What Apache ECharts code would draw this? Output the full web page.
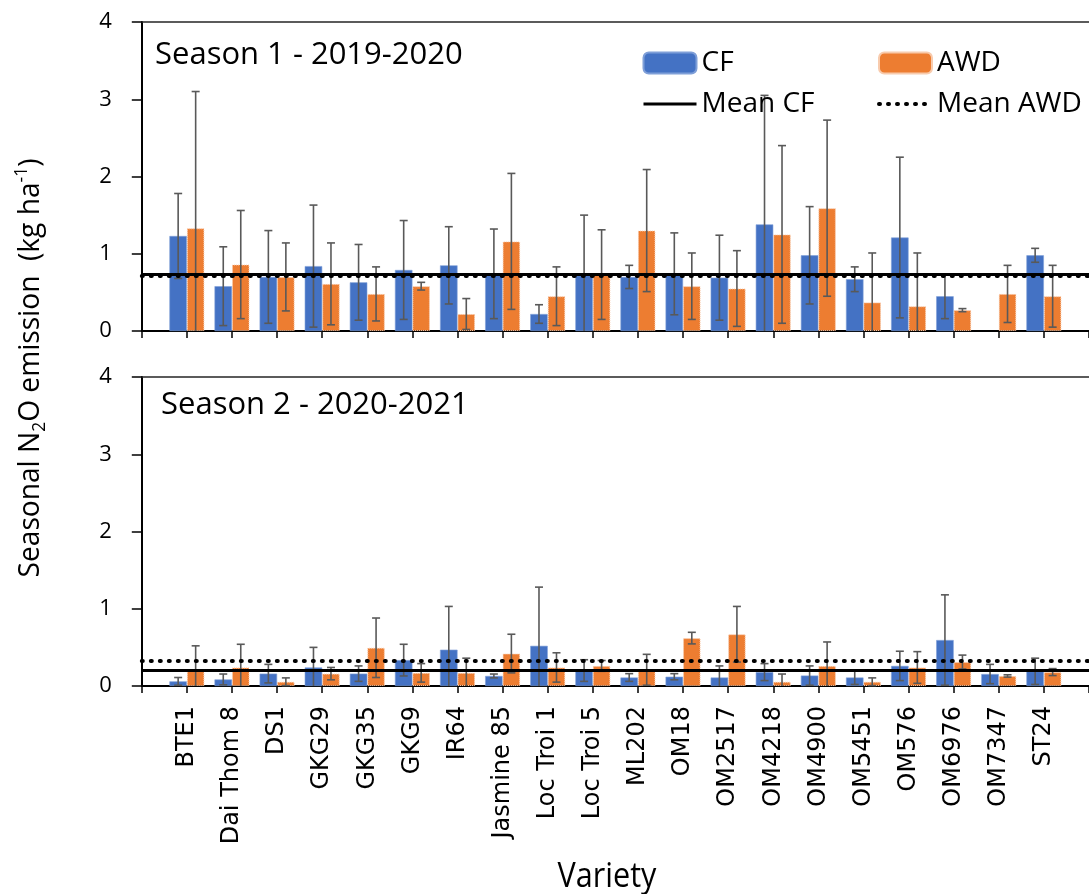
<!DOCTYPE html>
<html>
<head>
<meta charset="utf-8">
<script src="https://cdn.jsdelivr.net/npm/echarts@6/dist/echarts.min.js"></script>
<style>
  html, body { margin: 0; padding: 0; background: #fff; }
  #chart { width: 1089px; height: 894px; }
</style>
</head>
<body>
<div id="chart"></div>
<script>
// ---------------- data ----------------
const categories = ['BTE1', 'Dai Thom 8', 'DS1', 'GKG29', 'GKG35', 'GKG9', 'IR64', 'Jasmine 85',
  'Loc Troi 1', 'Loc Troi 5', 'ML202', 'OM18', 'OM2517', 'OM4218', 'OM4900', 'OM5451',
  'OM576', 'OM6976', 'OM7347', 'ST24'];

// Season 1 - 2019-2020
const cf1     = [1.23, 0.58, 0.70, 0.84, 0.63, 0.79, 0.85, 0.74, 0.22, 0.72, 0.70, 0.74, 0.69, 1.38, 0.98, 0.67, 1.21, 0.45, null, 0.98];
const cf1Err  = [0.55, 0.51, 0.60, 0.79, 0.49, 0.64, 0.50, 0.58, 0.12, 0.78, 0.15, 0.53, 0.55, 1.67, 0.63, 0.16, 1.04, 0.29, null, 0.09];
const awd1    = [1.33, 0.86, 0.70, 0.61, 0.48, 0.58, 0.22, 1.16, 0.45, 0.73, 1.30, 0.58, 0.55, 1.25, 1.59, 0.37, 0.32, 0.27, 0.48, 0.45];
const awd1Err = [1.77, 0.70, 0.44, 0.53, 0.35, 0.05, 0.20, 0.88, 0.38, 0.58, 0.79, 0.43, 0.49, 1.15, 1.14, 0.64, 0.69, 0.02, 0.37, 0.40];
const meanCF1 = 0.74;
const meanAWD1 = 0.71;

// Season 2 - 2020-2021
const cf2     = [0.06, 0.085, 0.16, 0.24, 0.16, 0.335, 0.47, 0.13, 0.52, 0.20, 0.11, 0.12, 0.11, 0.18, 0.135, 0.11, 0.26, 0.595, 0.155, 0.19];
const cf2Err  = [0.05, 0.07, 0.12, 0.26, 0.10, 0.205, 0.56, 0.025, 0.76, 0.14, 0.05, 0.04, 0.15, 0.11, 0.125, 0.09, 0.19, 0.585, 0.125, 0.17];
const awd2    = [0.21, 0.24, 0.055, 0.16, 0.495, 0.17, 0.17, 0.42, 0.24, 0.26, 0.21, 0.62, 0.67, 0.055, 0.26, 0.055, 0.24, 0.31, 0.13, 0.18];
const awd2Err = [0.31, 0.30, 0.05, 0.08, 0.385, 0.12, 0.19, 0.25, 0.19, 0.07, 0.20, 0.075, 0.36, 0.10, 0.31, 0.05, 0.205, 0.09, 0.015, 0.045];
const meanCF2 = 0.20;
const meanAWD2 = 0.325;

const yMin = 0, yMax = 4, yInterval = 1;

// ---------------- helpers ----------------
// Category axis with an empty slot at each end (bars sit on tick marks)
const axisCats = [''].concat(categories, ['']);
const pad = arr => [null].concat(arr, [null]);
const errData = (vals, errs) => vals.map((v, i) => (v == null ? null : [i + 1, v, errs[i]])).filter(d => d);

const FONT = 'Open Sans';
const CAT_FONT = 'DejaVu Sans';
const BLUE = '#4472C4', ORANGE = '#ED7D31', ERR = '#595959';
const BAR_W = 17.5;
const DOT = [1, 8];

function errRender(offset) {
  return function (params, api) {
    const x = api.value(0), v = api.value(1), e = api.value(2);
    const top = api.coord([x, v + e]);
    const lowVal = v - e;
    const bot = api.coord([x, Math.max(0, lowVal)]);
    const cx = top[0] + offset, cap = 4;
    const st = { stroke: ERR, lineWidth: 1.6 };
    const children = [
      { type: 'line', shape: { x1: cx, y1: top[1], x2: cx, y2: bot[1] }, style: st },
      { type: 'line', shape: { x1: cx - cap, y1: top[1], x2: cx + cap, y2: top[1] }, style: st }
    ];
    if (lowVal > 0) {
      children.push({ type: 'line', shape: { x1: cx - cap, y1: bot[1], x2: cx + cap, y2: bot[1] }, style: st });
    }
    return { type: 'group', children };
  };
}

const gridLeft = 141.8, band = 45.47;
const grids = [
  { left: gridLeft, top: 22, width: band * 21, height: 309 },
  { left: gridLeft, top: 377, width: band * 21, height: 309 }
];

function xAxesFor(g, showLabels) {
  return [
    {
      gridIndex: g, type: 'category', data: axisCats, boundaryGap: false, position: 'bottom',
      axisLine: { onZero: false, lineStyle: { color: '#000', width: 2 } },
      axisTick: { show: true, interval: 0, length: 7, lineStyle: { color: '#000', width: 1.5 } },
      axisLabel: {
        show: showLabels, interval: 0, rotate: 90, margin: 20,
        fontSize: 24, fontFamily: CAT_FONT, color: '#000'
      }
    },
    {
      gridIndex: g, type: 'category', data: axisCats, boundaryGap: false, position: 'top',
      axisLine: { onZero: false, lineStyle: { color: '#262626', width: 1.5 } },
      axisTick: { show: false }, axisLabel: { show: false }
    }
  ];
}

function yAxisFor(g) {
  return {
    gridIndex: g, type: 'value', min: yMin, max: yMax, interval: yInterval,
    axisLine: { show: true, onZero: false, lineStyle: { color: '#000', width: 2 } },
    axisTick: { show: true, length: 10, lineStyle: { color: '#000', width: 1.5 } },
    axisLabel: { fontSize: 22, fontFamily: FONT, color: '#000', margin: 30 },
    splitLine: { show: false }
  };
}

function panelSeries(g, cf, cfErr, awd, awdErr, mCF, mAWD) {
  const xi = g * 2, yi = g;
  return [
    { name: 'CF', type: 'bar', xAxisIndex: xi, yAxisIndex: yi, data: pad(cf), barWidth: BAR_W, barGap: '0%',
      itemStyle: { color: BLUE, borderColor: '#7F9FD8', borderWidth: 0.6 } },
    { name: 'AWD', type: 'bar', xAxisIndex: xi, yAxisIndex: yi, data: pad(awd), barWidth: BAR_W, barGap: '0%',
      itemStyle: { color: ORANGE, borderColor: '#F8CBAD', borderWidth: 1, borderType: 'dotted' } },
    { name: 'errCF' + g, type: 'custom', xAxisIndex: xi, yAxisIndex: yi, renderItem: errRender(-BAR_W / 2),
      data: errData(cf, cfErr), z: 3, silent: true },
    { name: 'errAWD' + g, type: 'custom', xAxisIndex: xi, yAxisIndex: yi, renderItem: errRender(BAR_W / 2),
      data: errData(awd, awdErr), z: 3, silent: true },
    { name: 'Mean CF', type: 'line', xAxisIndex: xi, yAxisIndex: yi, data: [], symbol: 'none', z: 4,
      lineStyle: { color: '#000', width: 3, type: 'solid' }, itemStyle: { color: '#000' },
      markLine: { silent: true, symbol: 'none', label: { show: false },
        lineStyle: { color: '#000', width: 3, type: 'solid' }, data: [{ yAxis: mCF }] } },
    { name: 'Mean AWD', type: 'line', xAxisIndex: xi, yAxisIndex: yi, data: [], symbol: 'none', z: 4,
      lineStyle: { color: '#000', width: 4, type: DOT, cap: 'round' }, itemStyle: { color: '#000' },
      markLine: { silent: true, symbol: 'none', label: { show: false },
        lineStyle: { color: '#000', width: 4, type: DOT, cap: 'round' }, data: [{ yAxis: mAWD }] } }
  ];
}

const legendCommon = {
  orient: 'vertical', itemWidth: 53, itemHeight: 21, itemGap: 13, padding: 0, selectedMode: false,
  textStyle: { fontSize: 28, fontFamily: FONT, color: '#000' }
};
const hideSym = { opacity: 0 };

const chart = echarts.init(document.getElementById('chart'), null, { renderer: 'canvas' });
chart.setOption({
  animation: false,
  backgroundColor: '#fff',
  grid: grids,
  xAxis: xAxesFor(0, false).concat(xAxesFor(1, true)),
  yAxis: [yAxisFor(0), yAxisFor(1)],
  legend: [
    Object.assign({ left: 642, top: 49, data: ['CF',
      { name: 'Mean CF', itemStyle: hideSym, lineStyle: { color: '#000', width: 3, type: 'solid' } }] }, legendCommon),
    Object.assign({ left: 877, top: 49, data: ['AWD',
      { name: 'Mean AWD', itemStyle: hideSym, lineStyle: { color: '#000', width: 4, type: DOT, cap: 'round' } }] }, legendCommon)
  ],
  series: panelSeries(0, cf1, cf1Err, awd1, awd1Err, meanCF1, meanAWD1)
    .concat(panelSeries(1, cf2, cf2Err, awd2, awd2Err, meanCF2, meanAWD2)),
  graphic: [
    { type: 'text', x: 155, y: 55, style: { text: 'Season 1 - 2019-2020', font: '31px "Open Sans"', fill: '#000', align: 'left', verticalAlign: 'middle' } },
    { type: 'text', x: 161, y: 405, style: { text: 'Season 2 - 2020-2021', font: '31px "Open Sans"', fill: '#000', align: 'left', verticalAlign: 'middle' } },
    { type: 'text', x: 31, y: 368, rotation: Math.PI / 2, scaleX: 0.97,
      style: {
        text: '{a|Seasonal N}{b|2}{a|O emission  (kg ha}{c|-1}{a|)}',
        align: 'center', verticalAlign: 'middle', fill: '#000',
        rich: {
          a: { fontSize: 29, fontFamily: FONT, lineHeight: 36, fill: '#000' },
          b: { fontSize: 18, fontFamily: FONT, lineHeight: 16, verticalAlign: 'bottom', fill: '#000' },
          c: { fontSize: 18, fontFamily: FONT, lineHeight: 16, verticalAlign: 'top', fill: '#000' }
        }
      } },
    { type: 'text', x: 607, y: 877, scaleX: 0.9, style: { text: 'Variety', font: '34px "Open Sans"', fill: '#000', align: 'center', verticalAlign: 'middle' } }
  ]
});
</script>
</body>
</html>
